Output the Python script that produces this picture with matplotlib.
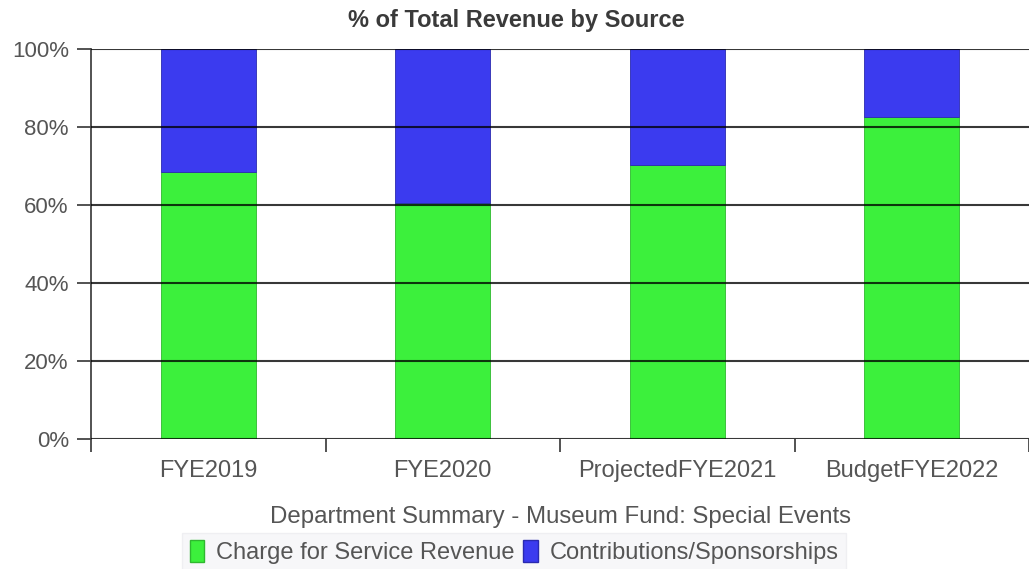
import matplotlib
matplotlib.use("Agg")
import matplotlib.pyplot as plt
from matplotlib.patches import Patch
from matplotlib.ticker import FuncFormatter, FixedLocator
import numpy as np

plt.rcParams['font.family'] = ['Liberation Sans', 'DejaVu Sans']

categories = ["FYE2019", "FYE2020", "ProjectedFYE2021", "BudgetFYE2022"]
charge_for_service = [68.6, 60.5, 70.3, 82.7]
contributions = [31.4, 39.5, 29.7, 17.3]
series_names = ["Charge for Service Revenue", "Contributions/Sponsorships"]
y_ticks = [0, 20, 40, 60, 80, 100]

green = "#3cf03c"
blue = "#3b3bef"
text_gray = "#555555"

W, H = 1029, 569
fig = plt.figure(figsize=(W / 100, H / 100), dpi=100)
fig.patch.set_facecolor("white")

# plot area in pixel terms: left 91, top 49, bottom 439.3, right runs past the edge
left, right = 91, W
top, bottom = 49, 439.3
ax = fig.add_axes([left / W, 1 - bottom / H, (right - left) / W, (bottom - top) / H])

cat_w = 237.5
x = np.arange(len(categories))
bar_w = 96 / cat_w

ax.bar(x, charge_for_service, width=bar_w, color=green, edgecolor="#2fb82f",
       linewidth=0.6, zorder=2)
ax.bar(x, contributions, width=bar_w, bottom=charge_for_service, color=blue,
       edgecolor="#2a2ab0", linewidth=0.6, zorder=2)

ax.set_xlim(-0.5, -0.5 + (right - left) / cat_w)
ax.set_ylim(0, 100)

# gridlines over bars
for yv in y_ticks:
    ax.axhline(yv, color="black", alpha=0.78, linewidth=1.5, zorder=3)

for s in ["top", "right", "bottom"]:
    ax.spines[s].set_visible(False)
ax.spines["left"].set_color("#444444")
ax.spines["left"].set_linewidth(1.3)

ax.yaxis.set_major_locator(FixedLocator(y_ticks))
ax.yaxis.set_major_formatter(FuncFormatter(lambda v, p: f"{int(v)}%"))
ax.tick_params(axis="y", length=10, width=1.3, color="#444444", pad=6,
               labelsize=16, labelcolor=text_gray)

# category boundary ticks on the x axis, labels centred between them
ax.set_xticks(np.arange(-0.5, len(categories), 1.0))
ax.set_xticklabels([])
ax.set_xticks(x, minor=True)
ax.set_xticklabels(categories, minor=True)
ax.tick_params(axis="x", which="major", length=9, width=1.3, color="#444444",
               direction="out")
ax.tick_params(axis="x", which="minor", length=0, pad=15, labelsize=17,
               labelcolor=text_gray)
ax.spines["left"].set_bounds(0, 100)

ax.set_xlabel("Department Summary - Museum Fund: Special Events", fontsize=17.3,
              color=text_gray, labelpad=17)

fig.text(516.5 / W, 1 - 20 / H, "% of Total Revenue by Source", ha="center",
         va="center", fontsize=17, fontweight="bold", color="#3a3a3a")

handles = [Patch(facecolor=green, edgecolor="#2fb82f"),
           Patch(facecolor=blue, edgecolor="#2a2ab0")]
leg = fig.legend(handles, series_names, loc="center", ncol=2,
                 bbox_to_anchor=(514 / W, 1 - 552 / H), fontsize=17,
                 frameon=True, facecolor="#f6f6f8", edgecolor="#ececf0",
                 fancybox=False, handlelength=0.6, handleheight=1.1,
                 handletextpad=0.5, columnspacing=0.4, borderpad=0.3,
                 labelcolor=text_gray)

fig.savefig("out.png", dpi=100, facecolor="white")
